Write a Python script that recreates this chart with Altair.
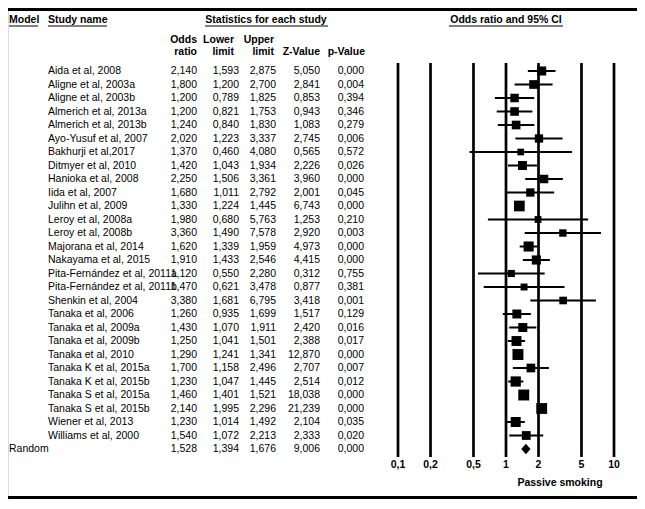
import altair as alt
import pandas as pd

studies = ["Aida et al, 2008", "Aligne et al, 2003a", "Aligne et al, 2003b", "Almerich et al, 2013a",
           "Almerich et al, 2013b", "Ayo-Yusuf et al, 2007", "Bakhurji et al,2017", "Ditmyer et al, 2010",
           "Hanioka et al, 2008", "Iida et al, 2007", "Julihn et al, 2009", "Leroy et al, 2008a",
           "Leroy et al, 2008b", "Majorana et al, 2014", "Nakayama et al, 2015", "Pita-Fernández et al, 2011a",
           "Pita-Fernández et al, 2011b", "Shenkin et al, 2004", "Tanaka et al, 2006", "Tanaka et al, 2009a",
           "Tanaka et al, 2009b", "Tanaka et al, 2010", "Tanaka K et al, 2015a", "Tanaka K et al, 2015b",
           "Tanaka S et al, 2015a", "Tanaka S et al, 2015b", "Wiener et al, 2013", "Williams et al, 2000"]
odds = [2.140, 1.800, 1.200, 1.200, 1.240, 2.020, 1.370, 1.420, 2.250, 1.680, 1.330, 1.980, 3.360, 1.620,
        1.910, 1.120, 1.470, 3.380, 1.260, 1.430, 1.250, 1.290, 1.700, 1.230, 1.460, 2.140, 1.230, 1.540]
lower = [1.593, 1.200, 0.789, 0.821, 0.840, 1.223, 0.460, 1.043, 1.506, 1.011, 1.224, 0.680, 1.490, 1.339,
         1.433, 0.550, 0.621, 1.681, 0.935, 1.070, 1.041, 1.241, 1.158, 1.047, 1.401, 1.995, 1.014, 1.072]
upper = [2.875, 2.700, 1.825, 1.753, 1.830, 3.337, 4.080, 1.934, 3.361, 2.792, 1.445, 5.763, 7.578, 1.959,
         2.546, 2.280, 3.478, 6.795, 1.699, 1.911, 1.501, 1.341, 2.496, 1.445, 1.521, 2.296, 1.492, 2.213]
zvals = [5.050, 2.841, 0.853, 0.943, 1.083, 2.745, 0.565, 2.226, 3.960, 2.001, 6.743, 1.253, 2.920, 4.973,
         4.415, 0.312, 0.877, 3.418, 1.517, 2.420, 2.388, 12.870, 2.707, 2.514, 18.038, 21.239, 2.104, 2.333]
pvals = [0.000, 0.004, 0.394, 0.346, 0.279, 0.006, 0.572, 0.026, 0.000, 0.045, 0.000, 0.210, 0.003, 0.000,
         0.000, 0.755, 0.381, 0.001, 0.129, 0.016, 0.017, 0.000, 0.007, 0.012, 0.000, 0.000, 0.035, 0.020]
# relative weights (estimated from square sizes)
weights = [3.6, 3.2, 3.0, 3.1, 3.2, 2.8, 1.3, 3.5, 3.0, 2.8, 5.6, 1.4, 1.9, 4.8,
           3.7, 1.7, 1.5, 2.1, 3.5, 3.6, 4.6, 5.9, 3.2, 5.0, 5.9, 5.8, 4.7, 3.3]
pooled_label = "Random"
pooled = {"or": 1.528, "lower": 1.394, "upper": 1.676, "z": 9.006, "p": 0.000}
ticks = [0.1, 0.2, 0.5, 1, 2, 5, 10]
tick_labels = ["0,1", "0,2", "0,5", "1", "2", "5", "10"]


def fmt(v):
    return f"{v:.3f}".replace(".", ",")


W, H = 629, 492
FONT = "Liberation Sans"
FS = 10.5
n = len(studies)

rows = pd.DataFrame({
    "row": list(range(n)),
    "study": studies,
    "or": odds, "lower": lower, "upper": upper, "weight": weights,
    "or_s": [fmt(v) for v in odds], "lo_s": [fmt(v) for v in lower], "up_s": [fmt(v) for v in upper],
    "z_s": [fmt(v) for v in zvals], "p_s": [fmt(v) for v in pvals],
})
pool = pd.DataFrame({
    "row": [n], "model": [pooled_label], "or": [pooled["or"]],
    "or_s": [fmt(pooled["or"])], "lo_s": [fmt(pooled["lower"])], "up_s": [fmt(pooled["upper"])],
    "z_s": [fmt(pooled["z"])], "p_s": [fmt(pooled["p"])],
})
all_rows = pd.concat([rows, pool], ignore_index=True)
tick_df = pd.DataFrame({"tick": ticks, "label": tick_labels})

xs = alt.Scale(type="log", domain=[0.1, 10], range=[390, 606], nice=False)
ys = alt.Scale(domain=[0, n], range=[63, 441], nice=False, zero=False)
Y = alt.Y("row:Q", scale=ys, axis=None)

one = pd.DataFrame({"k": [0]})

layers = []
# borders
for yv in [1.5, H - 2.5]:
    layers.append(alt.Chart(one).mark_rule(color="black", strokeWidth=3).encode(
        x=alt.value(0), x2=alt.value(W), y=alt.value(yv)))

# vertical reference lines
layers.append(alt.Chart(tick_df).mark_rule(color="black", strokeWidth=2.7).encode(
    x=alt.X("tick:Q", scale=xs, axis=None), y=alt.value(55), y2=alt.value(449)))
layers.append(alt.Chart(tick_df).mark_text(font=FONT, fontSize=FS, fontWeight="bold", baseline="middle",
                                           align="center", color="black").encode(
    x=alt.X("tick:Q", scale=xs, axis=None), y=alt.value(457), text="label:N"))

# confidence intervals
layers.append(alt.Chart(rows).mark_rule(color="black", strokeWidth=2).encode(
    x=alt.X("lower:Q", scale=xs, axis=None), x2="upper:Q", y=Y))
# squares
layers.append(alt.Chart(rows).mark_point(shape="square", filled=True, opacity=1, color="black").encode(
    x=alt.X("or:Q", scale=xs, axis=None), y=Y,
    size=alt.Size("weight:Q", scale=alt.Scale(domain=[1, 6], range=[40, 121]), legend=None)))
# pooled diamond
layers.append(alt.Chart(pool).mark_point(shape="M -1 0 L 0 -1.15 L 1 0 L 0 1.15 Z", filled=True,
                                         opacity=1, color="black", size=85).encode(
    x=alt.X("or:Q", scale=xs, axis=None), y=Y))

# table text
def txt(df, field, xpx, align):
    return alt.Chart(df).mark_text(font=FONT, fontSize=FS, align=align, baseline="middle",
                                   color="black").encode(x=alt.value(xpx), y=Y, text=f"{field}:N")

layers.append(txt(rows, "study", 40, "left"))
layers.append(txt(pool, "model", 1, "left"))
for field, xpx in [("or_s", 189), ("lo_s", 231), ("up_s", 268), ("z_s", 312), ("p_s", 356)]:
    layers.append(txt(all_rows, field, xpx, "right"))

# headers
def head(label, xpx, ypx, align):
    return alt.Chart(one).mark_text(font=FONT, fontSize=FS, fontWeight="bold", align=align,
                                    baseline="middle", color="black", text=label).encode(
        x=alt.value(xpx), y=alt.value(ypx))

def uline(x1, x2, ypx):
    return alt.Chart(one).mark_rule(color="black", strokeWidth=1).encode(
        x=alt.value(x1), x2=alt.value(x2), y=alt.value(ypx))

layers += [
    head("Model", 1, 12, "left"), uline(1, 30, 18),
    head("Study name", 40, 12, "left"), uline(40, 99, 18),
    head("Statistics for each study", 258, 12, "center"), uline(197, 320, 18),
    head("Odds ratio and 95% CI", 498, 12, "center"), uline(441, 555, 18),
    head("Odds", 189, 32, "right"), head("ratio", 189, 44, "right"),
    head("Lower", 226, 32, "right"), head("limit", 226, 44, "right"),
    head("Upper", 266, 32, "right"), head("limit", 266, 44, "right"),
    head("Z-Value", 312, 44, "right"), head("p-Value", 357, 44, "right"),
    head("Passive smoking", 552, 475, "center"),
]

chart = alt.layer(*layers).properties(
    width=W, height=H, padding=0, autosize=alt.AutoSizeParams(type="none")
).configure_view(stroke=None).configure(background="white")

chart.save("out.html", embed_options={"renderer": "svg", "actions": False})
